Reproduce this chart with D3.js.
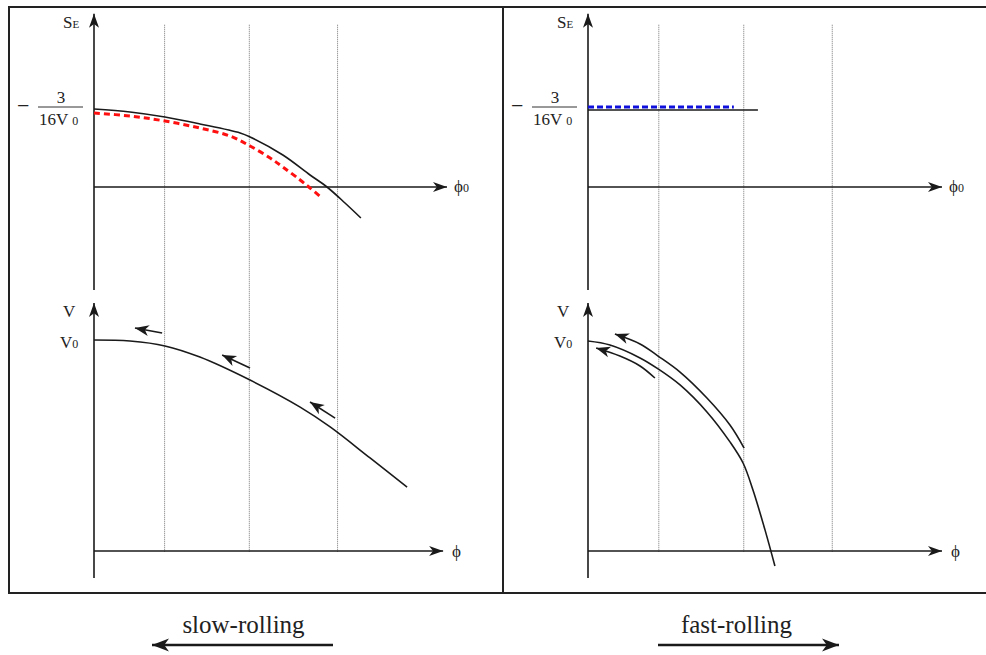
<!DOCTYPE html>
<html><head><meta charset="utf-8">
<script src="https://cdn.jsdelivr.net/npm/d3@7"></script>
<style>body{margin:0;background:#fff}svg{display:block}text{font-family:"Liberation Serif","Times New Roman",Times,serif;fill:#222}</style>
</head><body>
<script>
// ---- data (u = phi-like position 0..100, v = value) ----
const guideU = [20, 44, 69];                       // dotted vertical guides
const slowSE_u = [0, 10.2, 20.1, 30.0, 41.4, 44.2, 53.5, 61.2, 66.0, 71.1, 75.6];
const slowSE_v = [1.0, 0.962, 0.897, 0.808, 0.692, 0.641, 0.410, 0.154, 0, -0.205, -0.397];
const slowSEred_u = [0, 10.2, 20.1, 30.0, 38.5, 44.2, 49.9, 53.5, 58.4, 61.2, 64.6];
const slowSEred_v = [0.949, 0.910, 0.846, 0.756, 0.654, 0.526, 0.372, 0.256, 0.090, -0.013, -0.141];
const fastSE_u = [0, 48];
const fastSE_v = [0.987, 0.987];
const fastSEblue_u = [0, 41.2];
const fastSEblue_v = [1.026, 1.026];
const slowV_u = [0, 10.2, 20.1, 30.0, 44.2, 58.4, 66.9, 78.2, 88.7];
const slowV_v = [1.0, 0.995, 0.972, 0.919, 0.810, 0.682, 0.588, 0.441, 0.303];
const slowArrows = [ // [u0,v0,u1,v1] from tail to head
  [19.3, 1.033, 11.6, 1.057],
  [44.2, 0.867, 36.3, 0.929],
  [68.3, 0.630, 61.2, 0.706]
];
const fastV_u = [0, 6.2, 14.7, 19.8, 26.0, 33.6, 40.1, 43.8, 46.6, 50.0, 52.8];
const fastV_v = [0.995, 0.976, 0.915, 0.863, 0.787, 0.659, 0.517, 0.417, 0.289, 0.100, -0.071];
const fastArrowUp_u = [44.1, 40.1, 33.6, 26.0, 19.8, 14.7, 7.6];
const fastArrowUp_v = [0.488, 0.597, 0.725, 0.848, 0.924, 0.981, 1.028];
const fastArrowLo_u = [18.9, 14.7, 9.0, 2.3];
const fastArrowLo_v = [0.820, 0.877, 0.924, 0.962];
const labels = {slow: "slow-rolling", fast: "fast-rolling"};

const W = 986, H = 655;
const svg = d3.select("body").append("svg").attr("width", W).attr("height", H);
const defs = svg.append("defs");
function mk(id, len, wid) {
  defs.append("marker").attr("id", id).attr("markerUnits", "userSpaceOnUse")
    .attr("viewBox", `${-len-1} ${-wid} ${len+2} ${2*wid}`)
    .attr("refX", 0).attr("refY", 0).attr("markerWidth", len+2).attr("markerHeight", 2*wid)
    .attr("orient", "auto")
    .append("path").attr("d", `M0,0 L${-len},${-wid*0.5} L${-len*0.72},0 L${-len},${wid*0.5} Z`).attr("fill", "#1a1a1a");
}
mk("ax", 14, 10);
mk("cv", 14, 11);
mk("big", 17, 13);

// panel frames
svg.append("rect").attr("x", 9).attr("y", 7).attr("width", 494).attr("height", 586)
  .attr("fill", "none").attr("stroke", "#222").attr("stroke-width", 2);
svg.append("rect").attr("x", 503).attr("y", 7).attr("width", 500).attr("height", 586)
  .attr("fill", "none").attr("stroke", "#222").attr("stroke-width", 2);

const yTop = d3.scaleLinear().domain([0, 1]).range([187, 109]);
const yBot = d3.scaleLinear().domain([0, 1]).range([551, 340]);
const line = (x, y) => d3.line().x(d => x(d[0])).y(d => y(d[1])).curve(d3.curveCatmullRom.alpha(0.5));
const zip = (a, b) => a.map((u, i) => [u, b[i]]);
const FF = "'Liberation Serif','Times New Roman',Times,serif";

function panel(x, botTip) {
  const g = svg.append("g").attr("font-family", FF);
  guideU.forEach(u => g.append("line").attr("x1", x(u)).attr("x2", x(u))
    .attr("y1", yTop(2.08)).attr("y2", yBot(-0.005))
    .attr("stroke", "#777").attr("stroke-width", 1).attr("stroke-dasharray", "1,1"));
  g.append("line").attr("x1", x(0)).attr("x2", x(0)).attr("y1", yTop(-1.32)).attr("y2", yTop(2.22))
    .attr("stroke", "#1a1a1a").attr("stroke-width", 1.6).attr("marker-end", "url(#ax)");
  g.append("line").attr("x1", x(0)).attr("x2", x(100)).attr("y1", yTop(0)).attr("y2", yTop(0))
    .attr("stroke", "#1a1a1a").attr("stroke-width", 1.6).attr("marker-end", "url(#ax)");
  g.append("line").attr("x1", x(0)).attr("x2", x(0)).attr("y1", yBot(-0.128)).attr("y2", yBot(1.175))
    .attr("stroke", "#1a1a1a").attr("stroke-width", 1.6).attr("marker-end", "url(#ax)");
  g.append("line").attr("x1", x(0)).attr("x2", x(botTip)).attr("y1", yBot(0)).attr("y2", yBot(0))
    .attr("stroke", "#1a1a1a").attr("stroke-width", 1.6).attr("marker-end", "url(#ax)");
  const x0 = x(0);
  const se = g.append("text").attr("x", x0 - 31).attr("y", 28).attr("font-size", 17);
  se.append("tspan").text("S");
  se.append("tspan").attr("font-size", 11).text("E");
  g.append("text").attr("x", x0 - 77).attr("y", 113).attr("font-size", 22).text("−");
  g.append("text").attr("x", x0 - 33).attr("y", 103).attr("font-size", 17).attr("text-anchor", "middle").text("3");
  g.append("line").attr("x1", x0 - 56).attr("x2", x0 - 11).attr("y1", 107).attr("y2", 107)
    .attr("stroke", "#333").attr("stroke-width", 1);
  const fr = g.append("text").attr("x", x0 - 55).attr("y", 125).attr("font-size", 17);
  fr.append("tspan").text("16V");
  fr.append("tspan").attr("dx", 4).attr("font-size", 12).text("0");
  const p0 = g.append("text").attr("x", x(100) + 7).attr("y", 192).attr("font-size", 17);
  p0.append("tspan").text("ϕ");
  p0.append("tspan").attr("font-size", 12).text("0");
  g.append("text").attr("x", x(botTip) + 9).attr("y", 557).attr("font-size", 17).text("ϕ");
  g.append("text").attr("x", x0 - 31).attr("y", 317).attr("font-size", 17).text("V");
  const v0 = g.append("text").attr("x", x0 - 34).attr("y", 348).attr("font-size", 17);
  v0.append("tspan").text("V");
  v0.append("tspan").attr("font-size", 12).text("0");
  return g;
}

const xL = d3.scaleLinear().domain([0, 100]).range([94, 447]);
const xR = d3.scaleLinear().domain([0, 100]).range([588, 942]);
const gL = panel(xL, 98.9);
const gR = panel(xR, 100);

gL.append("path").attr("d", line(xL, yTop)(zip(slowSE_u, slowSE_v)))
  .attr("fill", "none").attr("stroke", "#1a1a1a").attr("stroke-width", 1.6);
gL.append("path").attr("d", line(xL, yTop)(zip(slowSEred_u, slowSEred_v)))
  .attr("fill", "none").attr("stroke", "#ff1010").attr("stroke-width", 3).attr("stroke-dasharray", "6,4");
gL.append("path").attr("d", line(xL, yBot)(zip(slowV_u, slowV_v)))
  .attr("fill", "none").attr("stroke", "#1a1a1a").attr("stroke-width", 1.6);
slowArrows.forEach(a => gL.append("line")
  .attr("x1", xL(a[0])).attr("y1", yBot(a[1])).attr("x2", xL(a[2])).attr("y2", yBot(a[3]))
  .attr("stroke", "#1a1a1a").attr("stroke-width", 1.6).attr("marker-end", "url(#cv)"));

gR.append("path").attr("d", line(xR, yTop)(zip(fastSE_u, fastSE_v)))
  .attr("fill", "none").attr("stroke", "#1a1a1a").attr("stroke-width", 1.6);
gR.append("path").attr("d", line(xR, yTop)(zip(fastSEblue_u, fastSEblue_v)))
  .attr("fill", "none").attr("stroke", "#1010dd").attr("stroke-width", 3).attr("stroke-dasharray", "6,3");
gR.append("path").attr("d", line(xR, yBot)(zip(fastV_u, fastV_v)))
  .attr("fill", "none").attr("stroke", "#1a1a1a").attr("stroke-width", 1.6);
gR.append("path").attr("d", line(xR, yBot)(zip(fastArrowUp_u, fastArrowUp_v)))
  .attr("fill", "none").attr("stroke", "#1a1a1a").attr("stroke-width", 1.6).attr("marker-end", "url(#cv)");
gR.append("path").attr("d", line(xR, yBot)(zip(fastArrowLo_u, fastArrowLo_v)))
  .attr("fill", "none").attr("stroke", "#1a1a1a").attr("stroke-width", 1.6).attr("marker-end", "url(#cv)");

svg.append("text").attr("font-family", FF).attr("x", 243.5).attr("y", 633).attr("font-size", 25).attr("text-anchor", "middle").text(labels.slow);
svg.append("line").attr("x1", 333).attr("x2", 152).attr("y1", 645).attr("y2", 645)
  .attr("stroke", "#1a1a1a").attr("stroke-width", 2.6).attr("marker-end", "url(#big)");
svg.append("text").attr("font-family", FF).attr("x", 736.5).attr("y", 633).attr("font-size", 25).attr("text-anchor", "middle").text(labels.fast);
svg.append("line").attr("x1", 658).attr("x2", 839).attr("y1", 645).attr("y2", 645)
  .attr("stroke", "#1a1a1a").attr("stroke-width", 2.6).attr("marker-end", "url(#big)");
</script>
</body></html>
